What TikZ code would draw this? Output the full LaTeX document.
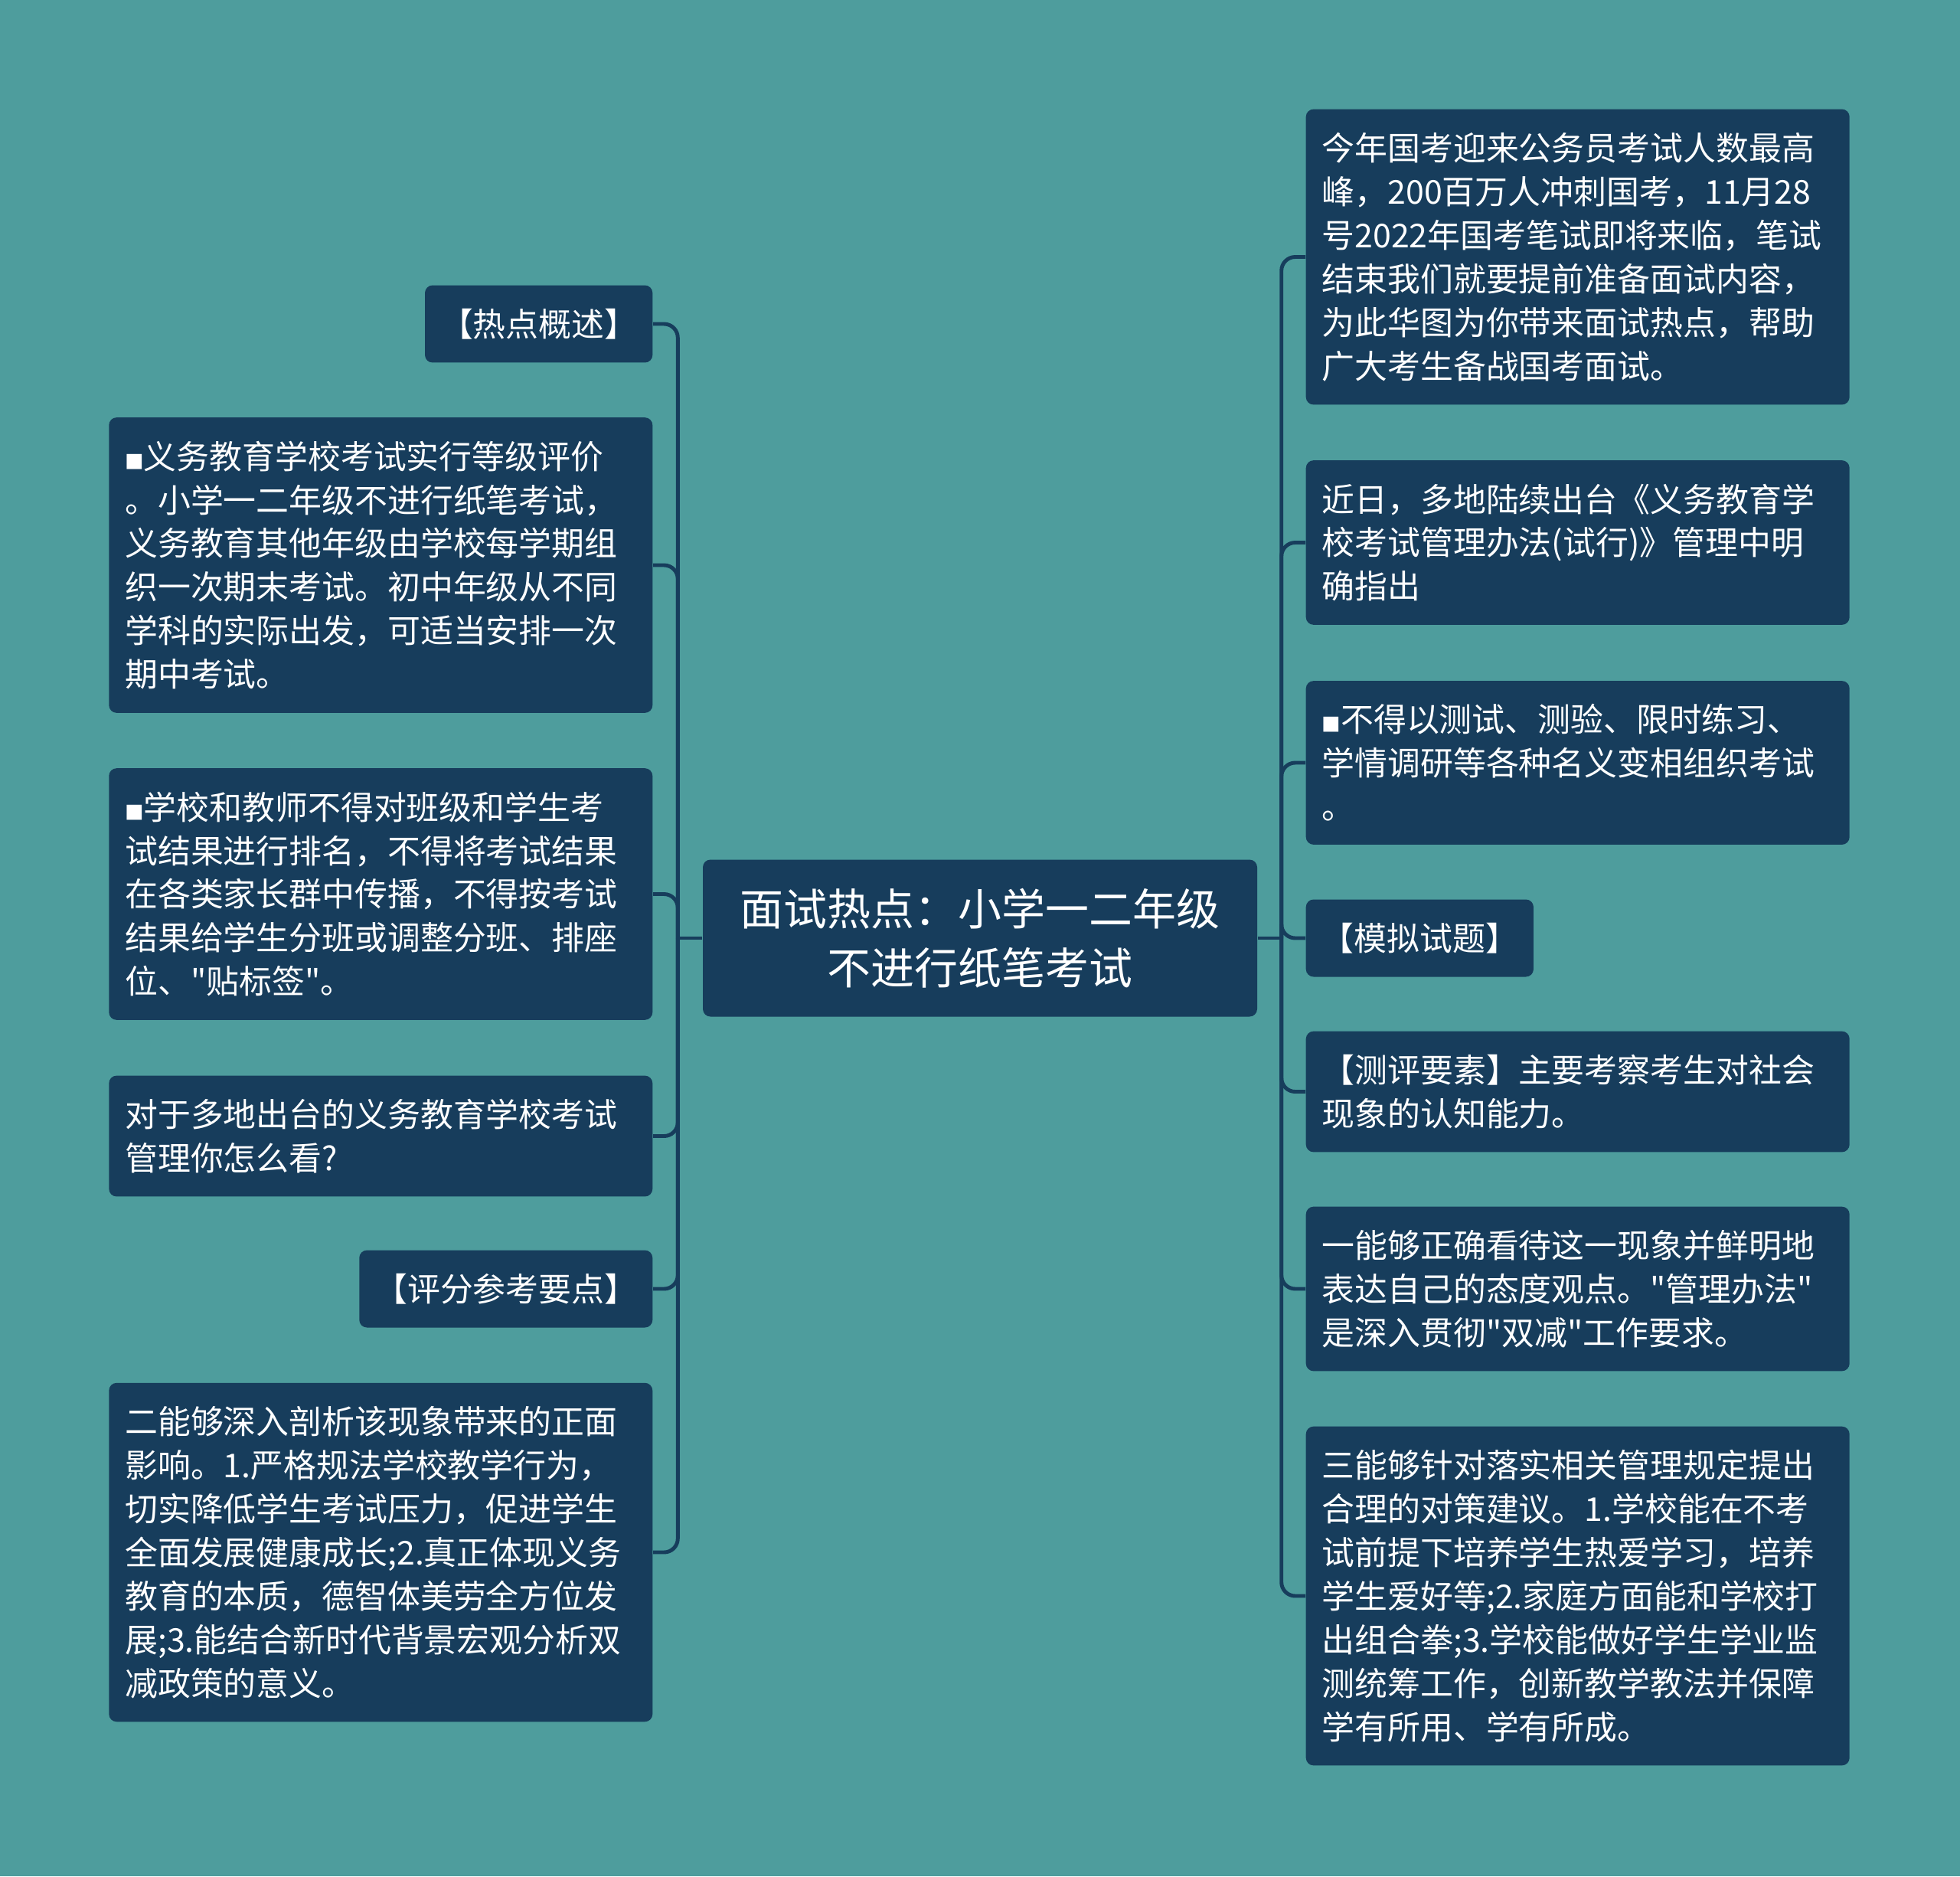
\documentclass[tikz,border=0pt]{standalone}
\usepackage{fontspec}
\usepackage{tikz}
\usetikzlibrary{positioning,calc}
\newfontfamily\cjk{Noto Sans CJK SC}
\definecolor{sea}{RGB}{78,157,157}
\definecolor{navy}{RGB}{23,61,92}
\newcommand\dotsq{{\fontsize{7pt}{7pt}\selectfont■}}
\tikzset{
  hub/.style={rounded corners=1mm,fill=navy,text=white,minimum width=7.24cm,
    minimum height=2.05cm,align=center,font=\cjk\fontsize{16.2pt}{21.9pt}\selectfont},
  leaf/.style={rounded corners=1mm,fill=navy,text=white,inner xsep=2.1mm,inner ysep=3.05mm,
    text width=6.68cm,align=left,font=\cjk\fontsize{12.2pt}{16.2pt}\selectfont},
  tag/.style={rounded corners=1mm,fill=navy,text=white,inner xsep=2mm,inner ysep=3.05mm,
    font=\cjk\fontsize{12.2pt}{16.2pt}\selectfont},
  link/.style={draw=navy,line width=1.4pt,rounded corners=1.8mm},
}

\begin{document}
\begin{tikzpicture}
\fill[sea] (0,0) rectangle (25.6,-24.5);
\useasboundingbox (0,0) rectangle (25.6,-24.5);
\node[hub] (root) at (12.8,-12.25) {面试热点：小学一二年级\\不进行纸笔考试};
% left side
\node[tag,anchor=east] (l1) at (8.53,-4.23) {【热点概述】};
\node[leaf,anchor=east] (l2) at (8.53,-7.38)
  {\dotsq 义务教育学校考试实行等级评价\\。小学一二年级不进行纸笔考试，\\义务教育其他年级由学校每学期组\\织一次期末考试。初中年级从不同\\学科的实际出发，可适当安排一次\\期中考试。};
\node[leaf,anchor=east] (l3) at (8.53,-11.675)
  {\dotsq 学校和教师不得对班级和学生考\\试结果进行排名，不得将考试结果\\在各类家长群中传播，不得按考试\\结果给学生分班或调整分班、排座\\位、"贴标签"。};
\node[leaf,anchor=east] (l4) at (8.53,-14.835)
  {对于多地出台的义务教育学校考试\\管理你怎么看?};
\node[tag,anchor=east] (l5) at (8.53,-16.83) {【评分参考要点】};
\node[leaf,anchor=east] (l6) at (8.53,-20.27)
  {二能够深入剖析该现象带来的正面\\影响。1.严格规法学校教学行为，\\切实降低学生考试压力，促进学生\\全面发展健康成长;2.真正体现义务\\教育的本质，德智体美劳全方位发\\展;3.能结合新时代背景宏观分析双\\减政策的意义。};
% right side
\node[leaf,anchor=west] (r1) at (17.05,-3.355)
  {今年国考迎来公务员考试人数最高\\峰，200百万人冲刺国考，11月28\\号2022年国考笔试即将来临，笔试\\结束我们就要提前准备面试内容，\\为此华图为你带来面试热点，帮助\\广大考生备战国考面试。};
\node[leaf,anchor=west] (r2) at (17.05,-7.085)
  {近日，多地陆续出台《义务教育学\\校考试管理办法(试行)》管理中明\\确指出};
\node[leaf,anchor=west] (r3) at (17.05,-9.96)
  {\dotsq 不得以测试、测验、限时练习、\\学情调研等各种名义变相组织考试\\。};
\node[tag,anchor=west] (r4) at (17.05,-12.25) {【模拟试题】};
\node[leaf,anchor=west] (r5) at (17.05,-14.255)
  {【测评要素】主要考察考生对社会\\现象的认知能力。};
\node[leaf,anchor=west] (r6) at (17.05,-16.83)
  {一能够正确看待这一现象并鲜明地\\表达自己的态度观点。"管理办法"\\是深入贯彻"双减"工作要求。};
\node[leaf,anchor=west] (r7) at (17.05,-20.84)
  {三能够针对落实相关管理规定提出\\合理的对策建议。1.学校能在不考\\试前提下培养学生热爱学习，培养\\学生爱好等;2.家庭方面能和学校打\\出组合拳;3.学校能做好学生学业监\\测统筹工作，创新教学教法并保障\\学有所用、学有所成。};
% connectors
\coordinate (lj) at ($(root.west)+(-0.32,0)$);
\coordinate (rj) at ($(root.east)+(0.31,0)$);
\draw[link] (root.west) -- (lj);
\draw[link] (root.east) -- (rj);
\foreach \n in {l1,l2,l3,l4,l5,l6}
  \draw[link] (lj) |- (\n.east);
\foreach \n in {r1,r2,r3,r4,r5,r6,r7}
  \draw[link] (rj) |- (\n.west);
\end{tikzpicture}
\end{document}
